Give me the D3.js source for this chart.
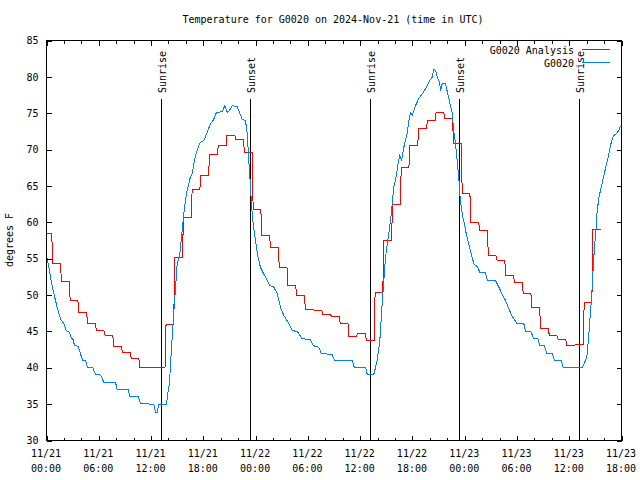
<!DOCTYPE html>
<html>
<head>
<meta charset="utf-8">
<script src="https://cdn.jsdelivr.net/npm/d3@7"></script>
<style>
  html, body { margin: 0; padding: 0; background: #fff; }
  svg { display: block; }
  text { font-family: "DejaVu Sans Mono", "Liberation Mono", monospace; font-size: 10px; fill: #000; }
</style>
</head>
<body>
<svg id="chart" width="640" height="480"></svg>
<script>
// ---------------- DATA ----------------
const titleText = "Temperature for G0020 on 2024-Nov-21 (time in UTC)";
const yLabel = "degrees F";
const seriesNames = ["G0020 Analysis", "G0020"];
const seriesColors = ["#ff0000", "#0080ff"];

const startTime = Date.UTC(2024, 10, 21, 0, 0);
const endTime = Date.UTC(2024, 10, 23, 18, 0);
const yTicks = [30, 35, 40, 45, 50, 55, 60, 65, 70, 75, 80, 85];

// G0020 Analysis: hourly values (hour 0 = 11/21 00:00), each value switching in at hh:36 of the previous hour
const redStepMinute = 36;
const redTemps = [
  58.4, 54.3, 51.9, 49.25, 47.6, 46.1, 45.1, 44.5, 42.9, 42.05, 41.3, 40.0,
  40.0, 40.0, 45.9, 55.2, 60.6, 64.5, 66.5, 69.3, 70.5, 72.0, 71.4, 69.6,
  61.8, 58.2, 56.5, 53.8, 51.3, 49.9, 48.0, 47.9, 47.3, 47.05, 46.1, 44.3,
  44.75, 43.8, 50.4, 57.5, 62.5, 67.6, 70.5, 72.85, 74.0, 75.1, 74.3, 70.8,
  63.9, 60.0, 58.9, 55.4, 54.75, 52.7, 51.7, 50.2, 48.3, 45.35, 44.4, 43.9,
  43.05, 43.2, 49.0, 59.0
];

// G0020 observations: hours after 11/21 00:00 and temperature
const blueHours = [
  0.00, 0.20, 0.46, 0.84, 1.23, 1.61, 1.99, 2.26, 2.64, 2.84, 3.06, 3.21, 3.64, 3.90, 4.17, 4.48,
  4.67, 5.31, 5.62, 6.20, 6.58, 7.92, 8.12, 9.38, 9.56, 10.53, 10.79, 12.32, 12.51, 12.71, 12.89,
  13.77, 13.92, 14.12, 14.35, 14.58, 14.81, 15.00, 15.27, 15.38, 15.58, 15.76, 15.95, 16.15, 16.47,
  16.72, 16.91, 17.10, 17.48, 17.68, 18.06, 18.45, 18.82, 19.13, 19.51, 20.17, 20.47, 20.74, 21.04,
  21.32, 21.89, 22.15, 22.46, 22.84, 23.04, 23.22, 23.42, 23.53, 23.68, 23.88, 24.07, 24.25, 24.56,
  24.83, 25.14, 25.63, 26.09, 26.48, 26.86, 27.24, 27.70, 28.20, 28.78, 29.35, 30.30, 30.61, 31.26,
  31.53, 32.79, 33.06, 35.09, 35.32, 36.62, 36.81, 37.57, 37.96, 38.26, 38.53, 38.72, 38.91, 39.18,
  39.49, 39.68, 39.86, 40.06, 40.32, 40.55, 40.75, 41.01, 41.40, 41.59, 41.78, 41.98, 42.36, 42.73,
  43.13, 43.62, 44.00, 44.27, 44.46, 44.65, 44.85, 45.11, 45.23, 45.42, 45.80, 46.06, 46.37, 46.57,
  46.75, 46.95, 47.14, 47.33, 47.44, 47.60, 47.79, 47.98, 48.21, 48.36, 48.67, 49.05, 49.44, 49.74,
  50.39, 50.59, 51.54, 51.92, 52.31, 52.69, 53.07, 53.46, 54.03, 54.79, 54.98, 55.56, 55.94, 56.40,
  56.62, 57.16, 57.39, 58.05, 58.31, 59.08, 59.31, 61.49, 61.87, 62.07, 62.25, 62.48, 62.64, 62.75,
  62.90, 63.05, 63.21, 63.42, 63.67, 63.97, 64.24, 64.51, 64.79, 65.07, 65.46, 65.67, 65.89
];
const blueTemps = [
  55.4, 54.3, 52.45, 50.2, 48.3, 46.7, 46.05, 45.1, 44.9, 44.1, 43.9, 43.05, 42.95, 41.9, 41.0, 41.0,
  40.1, 40.0, 39.1, 39.0, 38.0, 38.0, 37.0, 37.0, 36.1, 36.0, 35.05, 35.0, 33.9, 33.9, 35.0,
  35.0, 36.4, 38.0, 42.8, 47.2, 51.0, 54.3, 55.3, 56.6, 58.9, 61.2, 63.0, 64.4, 66.0,
  66.7, 68.0, 69.2, 70.6, 71.0, 71.25, 72.4, 73.55, 74.0, 75.1, 75.2, 76.05, 75.1, 75.45,
  76.05, 75.9, 75.1, 74.2, 74.0, 72.2, 68.5, 64.8, 62.5, 60.25, 58.4, 56.8, 55.4, 53.8,
  53.15, 52.45, 51.3, 51.1, 50.2, 48.3, 47.2, 46.3, 45.1, 45.0, 44.0, 43.85, 43.05, 42.8,
  42.0, 41.8, 41.0, 41.0, 40.1, 40.1, 39.1, 39.1, 41.0, 43.75, 48.8, 52.0, 55.2, 57.5,
  60.25, 62.5, 64.8, 65.75, 67.8, 69.2, 68.5, 70.3, 72.2, 74.0, 75.1, 74.7, 76.05, 77.0,
  77.65, 78.6, 79.5, 79.95, 81.0, 80.9, 79.95, 79.3, 78.1, 79.05, 79.05, 77.65, 76.05, 75.0,
  72.5, 70.8, 68.5, 66.0, 63.9, 62.1, 60.7, 59.8, 58.2, 57.5, 56.1, 54.3, 53.9, 53.15,
  53.15, 52.0, 52.0, 51.1, 50.1, 49.25, 48.1, 47.05, 46.05, 46.05, 45.05, 45.05, 44.0, 44.0,
  43.05, 43.05, 42.0, 42.0, 41.0, 41.0, 40.05, 40.05, 41.0, 41.9, 44.65, 48.3, 51.1, 53.8,
  56.6, 58.6, 61.6, 63.5, 64.8, 66.4, 67.8, 69.2, 70.8, 71.9, 72.2, 72.6, 73.3
];

// Sun events (UTC)
const sunLabels = ["Sunrise", "Sunset", "Sunrise", "Sunset", "Sunrise"];
const sunTimes = ["2024-11-21T13:10Z", "2024-11-21T23:27Z", "2024-11-22T13:10Z", "2024-11-22T23:26Z", "2024-11-23T13:12Z"];

// ---------------- CHART ----------------
const svg = d3.select("#chart");
const pLeft = 46.5, pRight = 621.5, pTop = 40.5, pBottom = 440.5;
const HOUR = 3600 * 1000;

const x = d3.scaleUtc().domain([new Date(startTime), new Date(endTime)]).range([pLeft, pRight]);
const y = d3.scaleLinear().domain([30, 85]).range([pBottom, pTop]);

const majorTicks = d3.utcHour.every(6).range(new Date(startTime), new Date(endTime + 1));
const minorTicks = d3.utcHour.every(2).range(new Date(startTime), new Date(endTime + 1))
  .filter(d => d.getUTCHours() % 6 !== 0);

// title
svg.append("text").attr("x", 333).attr("y", 23).attr("text-anchor", "middle").text(titleText);

// y label
svg.append("text").attr("transform", "translate(13,240) rotate(-90)")
  .attr("text-anchor", "middle").text(yLabel);

// sun lines
sunTimes.forEach((s, i) => {
  const sx = Math.round(x(new Date(s)) - 0.5) + 0.5;
  svg.append("line").attr("x1", sx).attr("x2", sx).attr("y1", 99).attr("y2", pBottom)
    .attr("stroke", "#000").attr("stroke-width", 1).attr("shape-rendering", "crispEdges");
  svg.append("text").attr("transform", `translate(${sx + 4},93) rotate(-90)`)
    .attr("text-anchor", "start").text(sunLabels[i]);
});

// data lines
const redPts = [];
redTemps.forEach((v, k) => {
  const s = Math.max(0, k - 1 + redStepMinute / 60);
  const e = k + redStepMinute / 60;
  redPts.push([startTime + (k === 0 ? s : s + 0.12) * HOUR, v]);
  redPts.push([startTime + e * HOUR, v]);
});
const line = d3.line().x(d => x(new Date(d[0]))).y(d => y(d[1]));

const bluePts = blueHours.map((h, i) => [startTime + h * HOUR, blueTemps[i]]);

svg.append("path").datum(redPts).attr("d", line)
  .attr("fill", "none").attr("stroke", seriesColors[0]).attr("stroke-width", 1)
  .attr("shape-rendering", "crispEdges");
svg.append("path").datum(bluePts).attr("d", line)
  .attr("fill", "none").attr("stroke", seriesColors[1]).attr("stroke-width", 1)
  .attr("shape-rendering", "crispEdges");

// axes
const gB = svg.append("g").attr("transform", `translate(0,${pBottom})`)
  .call(d3.axisBottom(x).tickValues(majorTicks).tickSizeInner(-5).tickSizeOuter(0)
    .tickFormat(d3.utcFormat("%m/%d|%H:%M")));
gB.selectAll(".tick text").each(function(d) {
  const t = d3.select(this);
  const parts = t.text().split("|");
  t.text(null).attr("y", null).attr("dy", null);
  t.append("tspan").attr("x", -1).attr("y", 16.5).text(parts[0]);
  t.append("tspan").attr("x", -1).attr("y", 31).text(parts[1]);
});
svg.append("g").attr("transform", `translate(0,${pBottom})`)
  .call(d3.axisBottom(x).tickValues(minorTicks).tickSizeInner(-3).tickSizeOuter(0).tickFormat(""));
svg.append("g").attr("transform", `translate(0,${pTop})`)
  .call(d3.axisTop(x).tickValues(majorTicks).tickSizeInner(-5).tickSizeOuter(0).tickFormat(""));
svg.append("g").attr("transform", `translate(0,${pTop})`)
  .call(d3.axisTop(x).tickValues(minorTicks).tickSizeInner(-3).tickSizeOuter(0).tickFormat(""));
svg.append("g").attr("transform", `translate(${pLeft},0)`)
  .call(d3.axisLeft(y).tickValues(yTicks).tickSizeInner(-5).tickSizeOuter(0).tickPadding(8));
svg.append("g").attr("transform", `translate(${pRight},0)`)
  .call(d3.axisRight(y).tickValues(yTicks).tickSizeInner(-5).tickSizeOuter(0).tickFormat(""));

svg.selectAll(".domain").remove();
svg.selectAll(".tick line").attr("stroke", "#000").attr("shape-rendering", "crispEdges");
svg.selectAll(".tick text").attr("font-family", null).attr("font-size", null).attr("fill", "#000");

// frame
svg.append("rect").attr("x", pLeft).attr("y", pTop).attr("width", pRight - pLeft).attr("height", pBottom - pTop)
  .attr("fill", "none").attr("stroke", "#000").attr("shape-rendering", "crispEdges");

// legend
seriesNames.forEach((n, i) => {
  const ly = 49.5 + i * 13;
  svg.append("text").attr("x", 574).attr("y", ly + 4).attr("text-anchor", "end").text(n);
  svg.append("line").attr("x1", 582).attr("x2", 610).attr("y1", ly).attr("y2", ly)
    .attr("stroke", seriesColors[i]).attr("stroke-width", 1).attr("shape-rendering", "crispEdges");
});
</script>
</body>
</html>
